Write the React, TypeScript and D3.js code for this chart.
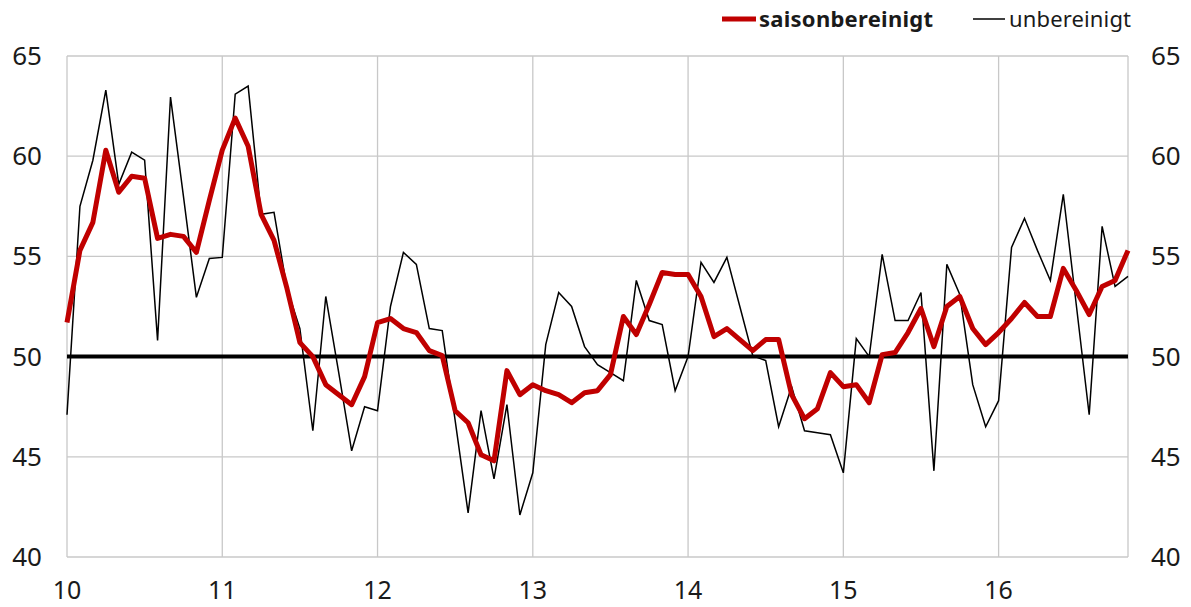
import React, { useEffect, useRef } from "react";
import * as d3 from "d3";

// monthly values, Jan 2010 .. Nov 2016
const saisonbereinigt = [
  51.7, 55.3, 56.7, 60.3, 58.2, 59.0, 58.9, 55.9, 56.1, 56.0,
  55.2, 57.8, 60.3, 61.9, 60.5, 57.1, 55.8, 53.4, 50.7, 50.0,
  48.6, 48.1, 47.6, 49.0, 51.7, 51.9, 51.4, 51.2, 50.3, 50.05,
  47.3, 46.7, 45.1, 44.8, 49.3, 48.1, 48.6, 48.3, 48.1, 47.7,
  48.2, 48.3, 49.1, 52.0, 51.1, 52.6, 54.2, 54.1, 54.1, 53.0,
  51.0, 51.4, 50.85, 50.3, 50.85, 50.85, 48.1, 46.9, 47.4, 49.2,
  48.5, 48.6, 47.7, 50.1, 50.2, 51.2, 52.4, 50.5, 52.5, 53.0,
  51.4, 50.6, 51.2, 51.9, 52.7, 52.0, 52.0, 54.4, 53.3, 52.1,
  53.5, 53.8, 55.3,
];

const unbereinigt = [
  47.1, 57.5, 59.8, 63.3, 58.6, 60.2, 59.8, 50.8, 62.95, 58.0,
  52.96, 54.9, 54.95, 63.1, 63.5, 57.1, 57.2, 53.4, 51.4, 46.3,
  53.0, 49.2, 45.3, 47.5, 47.3, 52.5, 55.2, 54.6, 51.4, 51.3,
  46.8, 42.2, 47.3, 43.9, 47.6, 42.1, 44.2, 50.6, 53.2, 52.5,
  50.5, 49.6, 49.2, 48.8, 53.8, 51.8, 51.6, 48.3, 50.0, 54.7,
  53.7, 54.95, 52.5, 50.05, 49.8, 46.5, 48.5, 46.3, 46.2, 46.1,
  44.2, 50.9, 50.0, 55.1, 51.8, 51.8, 53.2, 44.3, 54.6, 53.1,
  48.6, 46.5, 47.8, 55.45, 56.9, 55.3, 53.8, 58.1, 52.6, 47.1,
  56.5, 53.5, 54.0,
];

const yearLabels = ["10", "11", "12", "13", "14", "15", "16"];
const yTicks = [40, 45, 50, 55, 60, 65];

const W = 1191;
const H = 607;
const FONT = "'Noto Sans', 'DejaVu Sans', sans-serif";

const App = () => {
  const svgRef = useRef(null);

  useEffect(() => {
    const svg = d3.select(svgRef.current);
    svg.selectAll("*").remove();

    const x = d3.scaleLinear().domain([0, saisonbereinigt.length - 1]).range([67, 1128]);
    const y = d3.scaleLinear().domain([40, 65]).range([557, 56]);
    const [x0, x1] = x.range();

    // grid
    const grid = svg.append("g");
    grid.selectAll(".hgrid")
      .data(yTicks.filter((v) => v !== 50))
      .join("line")
      .attr("x1", x0).attr("x2", x1)
      .attr("y1", (d) => y(d)).attr("y2", (d) => y(d))
      .attr("stroke", "#c8c8c8")
      .attr("stroke-width", 1.3);

    const vlines = yearLabels.map((_, i) => i * 12).concat([saisonbereinigt.length - 1]);
    grid.selectAll(".vgrid")
      .data(vlines)
      .join("line")
      .attr("x1", (d) => x(d)).attr("x2", (d) => x(d))
      .attr("y1", y(65)).attr("y2", y(40))
      .attr("stroke", "#c8c8c8")
      .attr("stroke-width", 1.3);

    // 50 line
    svg.append("line")
      .attr("x1", x0).attr("x2", x1)
      .attr("y1", y(50)).attr("y2", y(50))
      .attr("stroke", "#000")
      .attr("stroke-width", 4);

    const line = d3.line().x((d, i) => x(i)).y((d) => y(d));

    svg.append("path")
      .datum(unbereinigt)
      .attr("fill", "none")
      .attr("stroke", "#000")
      .attr("stroke-width", 1.5)
      .attr("stroke-linejoin", "miter")
      .attr("d", line);

    svg.append("path")
      .datum(saisonbereinigt)
      .attr("fill", "none")
      .attr("stroke", "#c00000")
      .attr("stroke-width", 5)
      .attr("stroke-linejoin", "round")
      .attr("d", line);

    // y labels, both sides
    const lbl = svg.append("g").style("font-family", FONT).style("font-size", "26px").attr("fill", "#1a1a1a");
    lbl.selectAll(".yl")
      .data(yTicks)
      .join("text")
      .attr("x", 42)
      .attr("y", (d) => y(d) + 9)
      .attr("text-anchor", "end")
      .text((d) => d);
    lbl.selectAll(".yr")
      .data(yTicks)
      .join("text")
      .attr("x", 1151)
      .attr("y", (d) => y(d) + 9)
      .attr("text-anchor", "start")
      .text((d) => d);
    lbl.selectAll(".xl")
      .data(yearLabels)
      .join("text")
      .attr("x", (d, i) => x(i * 12))
      .attr("y", 599)
      .style("font-size", "25px")
      .attr("text-anchor", "middle")
      .text((d) => d);

    // legend
    const lg = svg.append("g").style("font-family", FONT).style("font-size", "22px").attr("fill", "#1a1a1a");
    lg.append("line")
      .attr("x1", 722).attr("x2", 756).attr("y1", 19).attr("y2", 19)
      .attr("stroke", "#c00000").attr("stroke-width", 5);
    lg.append("text")
      .attr("x", 759).attr("y", 27)
      .style("font-weight", "bold")
      .attr("textLength", 174)
      .text("saisonbereinigt");
    lg.append("line")
      .attr("x1", 973).attr("x2", 1005).attr("y1", 19).attr("y2", 19)
      .attr("stroke", "#000").attr("stroke-width", 1.5);
    lg.append("text")
      .attr("x", 1009).attr("y", 27)
      .attr("textLength", 122)
      .text("unbereinigt");
  }, []);

  return (
    <svg
      ref={svgRef}
      width={W}
      height={H}
      style={{ position: "absolute", left: 0, top: 0, background: "#fff" }}
    />
  );
};

export default App;
